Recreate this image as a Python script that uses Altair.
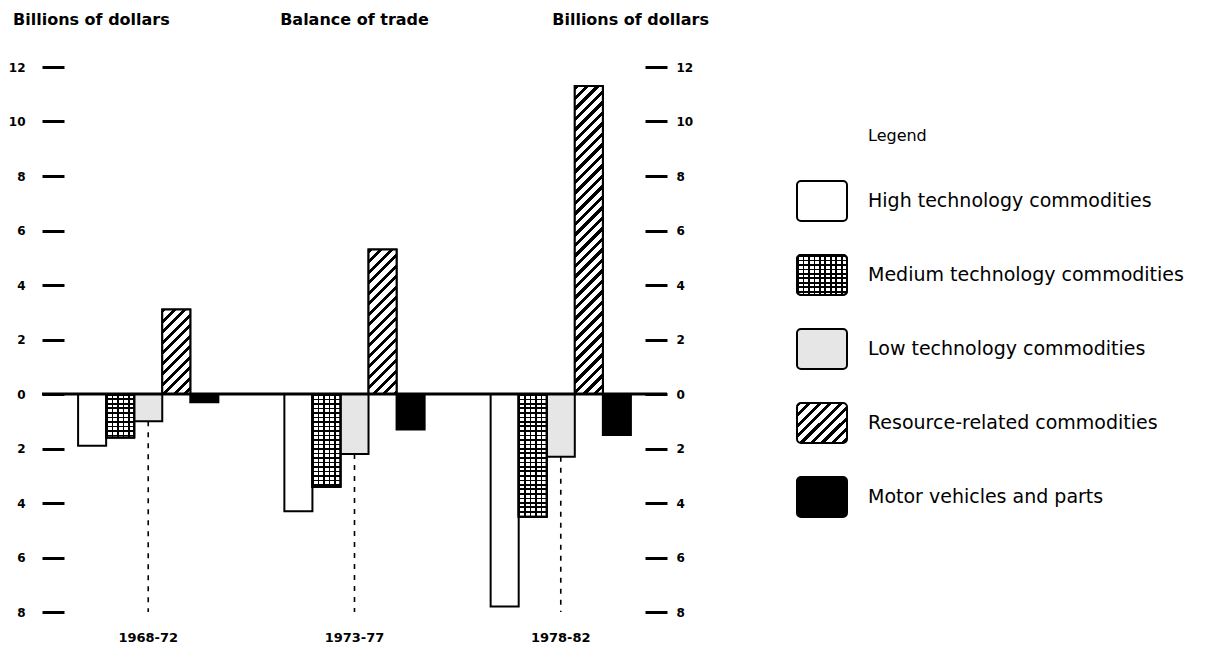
import altair as alt
import pandas as pd

# ---------------- data ----------------
periods = ["1968-72", "1973-77", "1978-82"]
categories = [
    "High technology commodities",
    "Medium technology commodities",
    "Low technology commodities",
    "Resource-related commodities",
    "Motor vehicles and parts",
]
high_tech = [-1.9, -4.3, -7.8]
medium_tech = [-1.6, -3.4, -4.5]
low_tech = [-1.0, -2.2, -2.3]
resource_related = [3.1, 5.3, 11.3]
motor_vehicles = [-0.3, -1.3, -1.5]
y_ticks = [-8, -6, -4, -2, 0, 2, 4, 6, 8, 10, 12]
side_title = "Billions of dollars"
center_title = "Balance of trade"
legend_title = "Legend"

series = [high_tech, medium_tech, low_tech, resource_related, motor_vehicles]
df = pd.DataFrame(
    [{"period": p, "category": c, "value": s[i]}
     for c, s in zip(categories, series) for i, p in enumerate(periods)]
)
legend_df = pd.DataFrame({"category": categories})

# ---------------- geometry / style ----------------
FONT = "DejaVu Sans"
W, H = 625, 545
Y_MIN, Y_MAX = -8, 12
PPU = H / (Y_MAX - Y_MIN)
P_IN, P_OUT = 0.32, 0.175
step = W / (len(periods) - P_IN + 2 * P_OUT)
bar_w = step * (1 - P_IN) / len(categories)
CLEAR = "rgba(0,0,0,0)"


def stops_for(length, period, frac, ink, bg):
    P = period / length
    out = []
    t = 0.0
    while t < 1.0:
        b = min(t + frac * P, 1.0)
        e = min(t + P, 1.0)
        out += [
            alt.GradientStop(color=ink, offset=round(t, 5)),
            alt.GradientStop(color=ink, offset=round(b, 5)),
            alt.GradientStop(color=bg, offset=round(b, 5)),
            alt.GradientStop(color=bg, offset=round(e, 5)),
        ]
        t += P
    return out


def diag_hatch(w, h, period=10.5, frac=0.4):
    L = w + h
    s = L / (w * w + h * h)
    return alt.LinearGradient(gradient="linear", stops=stops_for(L, period, frac, "black", "white"),
                              x1=0, y1=0, x2=s * w, y2=s * h)


def h_lines(h, period=4.5, frac=0.35):
    return alt.LinearGradient(gradient="linear", stops=stops_for(h, period, frac, "black", "white"),
                              x1=0, y1=0, x2=0, y2=1)


def v_lines(w, period=5.5, frac=0.28):
    return alt.LinearGradient(gradient="linear", stops=stops_for(w, period, frac, "black", CLEAR),
                              x1=0, y1=0, x2=1, y2=0)


xscale = alt.Scale(domain=periods, paddingInner=P_IN, paddingOuter=P_OUT)
xaxis = alt.Axis(title=None, labelAngle=0, domain=False, ticks=False, labelPadding=19,
                 labelFontSize=13, labelFontWeight="bold", labelFont=FONT, labelColor="black")
yscale = alt.Scale(domain=[Y_MIN, Y_MAX], nice=False, zero=False)
left_axis = alt.Axis(title=None, orient="left", values=y_ticks, labelExpr="abs(datum.value)",
                     domain=False, grid=False, tickSize=22, tickWidth=3, tickColor="black",
                     offset=-22, labelPadding=17, labelFontSize=12, labelFontWeight="bold",
                     labelFont=FONT, labelColor="black")
right_axis = alt.Axis(title=None, orient="right", values=y_ticks, labelExpr="abs(datum.value)",
                      domain=False, grid=False, tickSize=22, tickWidth=3, tickColor="black",
                      offset=-22, labelPadding=9, labelFontSize=12, labelFontWeight="bold",
                      labelFont=FONT, labelColor="black")
off_scale = alt.Scale(domain=categories, paddingInner=0, paddingOuter=0)


def base(d):
    return alt.Chart(d).encode(
        x=alt.X("period:N", sort=periods, scale=xscale, axis=xaxis),
        xOffset=alt.XOffset("category:N", sort=categories, scale=off_scale),
        y=alt.Y("value:Q", scale=yscale, axis=left_axis),
    )


fills = ["white", "white", "#e6e6e6", "white", "black"]
bars = base(df).mark_bar(stroke="black", strokeWidth=2).encode(
    fill=alt.Fill("category:N", scale=alt.Scale(domain=categories, range=fills), legend=None)
)

overlays = []
for i, p in enumerate(periods):
    d_res = df[(df.period == p) & (df.category == categories[3])]
    h = abs(resource_related[i]) * PPU
    overlays.append(base(d_res).mark_bar(fill=diag_hatch(bar_w, h), stroke="black", strokeWidth=2))
    d_med = df[(df.period == p) & (df.category == categories[1])]
    hm = abs(medium_tech[i]) * PPU
    overlays.append(base(d_med).mark_bar(fill=h_lines(hm), stroke="black", strokeWidth=2))
    overlays.append(base(d_med).mark_bar(fill=v_lines(bar_w), stroke="black", strokeWidth=2))

low_df = df[df.category == categories[2]]
dashed = base(low_df).mark_rule(strokeDash=[5, 6], strokeWidth=1.6, color="black").encode(
    y2=alt.Y2(datum=Y_MIN)
)


def label(text, x, align, size):
    return alt.Chart(pd.DataFrame({"t": [text]})).mark_text(
        align=align, baseline="middle", fontSize=size, font=FONT, fontWeight="bold", color="black"
    ).encode(x=alt.value(x), y=alt.value(-47), text="t:N")


titles = [
    label(side_title, -29, "left", 16),
    label(center_title, W / 2, "center", 16),
    label(side_title, W + 42, "right", 16),
]

main = alt.layer(bars, *overlays, dashed, *titles)

zero = alt.Chart(pd.DataFrame({"z": [0]})).mark_rule(strokeWidth=3, color="black").encode(
    y=alt.Y("z:Q", scale=yscale, axis=right_axis)
)

# ---------------- legend ----------------
leg_y = alt.Y("category:N", sort=categories,
              scale=alt.Scale(domain=categories, range=[97, 467], paddingInner=0.46, paddingOuter=0.23),
              axis=None)
SW, SH = 50, 40
LX = 755
sw_fills = ["white", None, "#e6e6e6", diag_hatch(SW, SH), "black"]
swatches = []
for c, f in zip(categories, sw_fills):
    d = legend_df[legend_df.category == c]
    if c == categories[1]:
        swatches.append(alt.Chart(d).mark_rect(fill=h_lines(SH), stroke="black", strokeWidth=2, cornerRadius=4)
                        .encode(x=alt.value(LX), x2=alt.value(LX + SW), y=leg_y))
        swatches.append(alt.Chart(d).mark_rect(fill=v_lines(SW), stroke="black", strokeWidth=2, cornerRadius=4)
                        .encode(x=alt.value(LX), x2=alt.value(LX + SW), y=leg_y))
    else:
        swatches.append(alt.Chart(d).mark_rect(fill=f, stroke="black", strokeWidth=2, cornerRadius=4)
                        .encode(x=alt.value(LX), x2=alt.value(LX + SW), y=leg_y))
leg_text = alt.Chart(legend_df).mark_text(align="left", baseline="middle", fontSize=19, font=FONT,
                                          color="black").encode(
    x=alt.value(LX + 71), y=leg_y, text="category:N")
leg_head = alt.Chart(pd.DataFrame({"t": [legend_title]})).mark_text(
    align="left", baseline="middle", fontSize=16, font=FONT, color="black"
).encode(x=alt.value(LX + 71), y=alt.value(69), text="t:N")
legend = alt.layer(*swatches, leg_text, leg_head)

chart = (
    alt.layer(main, zero, legend)
    .resolve_scale(y="independent")
    .properties(width=W, height=H, padding={"left": 0, "top": 4, "right": 4, "bottom": 0},
                background="white")
    .configure_view(stroke="transparent")
)

chart.save("out.html", embed_options={"renderer": "svg", "actions": False})
